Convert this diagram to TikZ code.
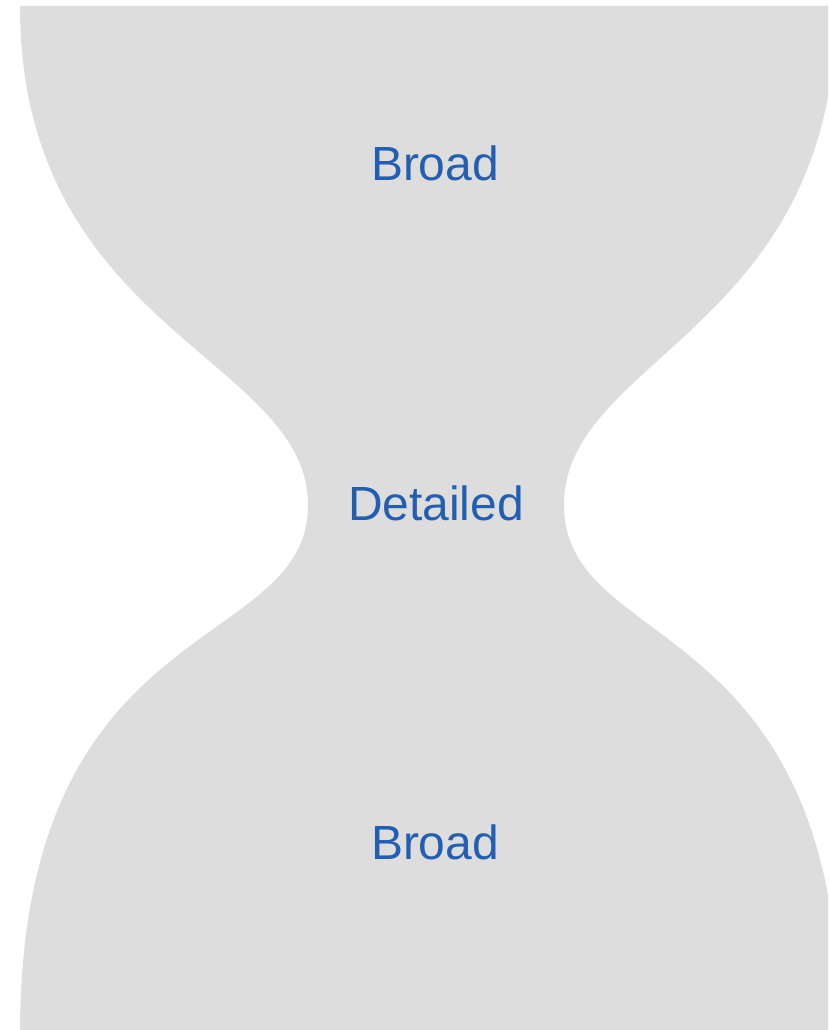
\documentclass[tikz,border=0pt]{standalone}
\usepackage{fontspec}
\setmainfont{Liberation Sans}
\definecolor{glassgray}{RGB}{221,221,221}
\definecolor{labelblue}{RGB}{34,94,178}
\begin{document}
\begin{tikzpicture}[x=0.02cm, y=-0.02cm,
  stagelabel/.style={text=labelblue, inner sep=0pt, font=\fontsize{27.3pt}{30pt}\selectfont}]
\useasboundingbox (0,0) rectangle (828,1030);
\begin{scope}
\clip (0,0) rectangle (828,1030);
% hourglass body: flat top, pinched waist, open bottom
\coordinate (tl) at (20,6);
\coordinate (tr) at (836,6);
\coordinate (wl) at (308,505);
\coordinate (wr) at (564,505);
\coordinate (bl) at (20,1034);
\coordinate (br) at (840,1034);
\fill[glassgray]
  (tl) -- (tr)
  .. controls (836,330) and (564,357) .. (wr)
  .. controls (564,656) and (840,608) .. (br)
  -- (840,1060) -- (20,1060) -- (bl)
  .. controls (20,608) and (308,656) .. (wl)
  .. controls (308,357) and (20,330) .. (tl)
  -- cycle;
\end{scope}
\node[stagelabel] (top) at (435,163) {Broad};
\node[stagelabel] (mid) at (436,503) {Detailed};
\node[stagelabel] (bot) at (435,842) {Broad};
\end{tikzpicture}
\end{document}
